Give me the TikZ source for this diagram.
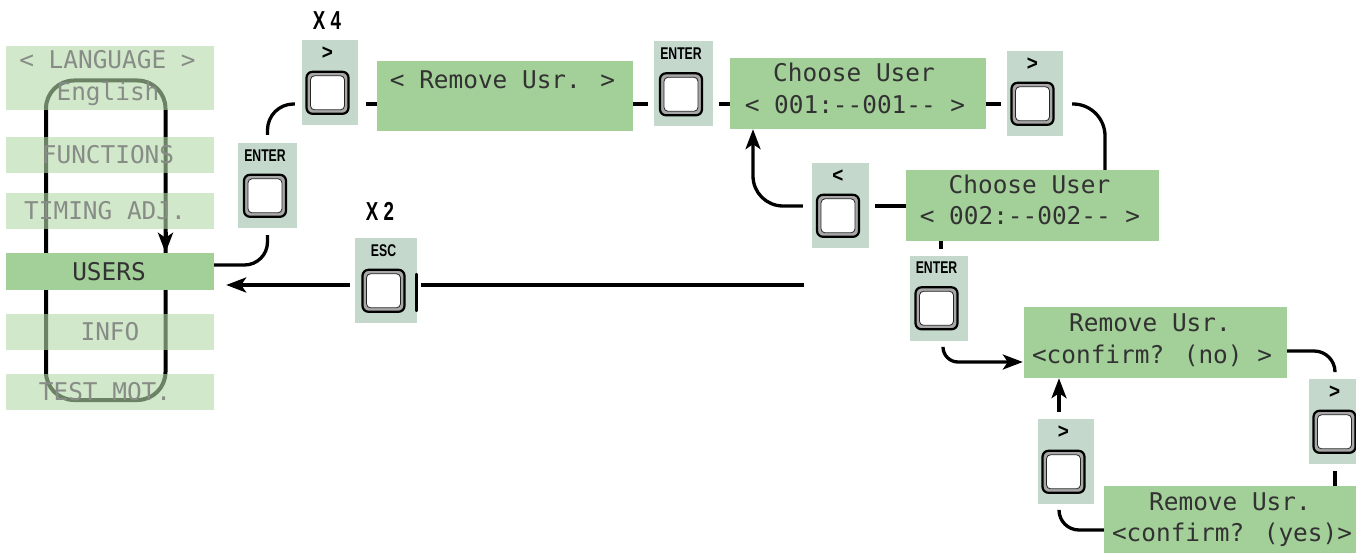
\documentclass[tikz,border=0pt]{standalone}
\usepackage{fontspec}
\usetikzlibrary{arrows.meta,calc}
\newfontfamily\lcd{DejaVu Sans Mono}
\newfontfamily\cond{Liberation Sans}[FakeStretch=0.72]
\newfontfamily\symf{Liberation Sans}[FakeStretch=0.9]
\definecolor{lcdgreen}{RGB}{163,207,152}
\definecolor{fadegreen}{RGB}{180,217,167}
\definecolor{panelc}{RGB}{196,216,203}
\definecolor{ringc}{RGB}{168,168,168}
\definecolor{lcdtext}{RGB}{50,50,50}
\definecolor{fadetext}{RGB}{135,140,135}
\tikzset{
  conn/.style={line width=3.3pt, black},
  arr/.style={-{Stealth[length=20pt,width=15pt,inset=5pt]}},
  lcdbox/.style={rectangle, fill=lcdgreen, inner sep=0, minimum height=71pt},
  fadebox/.style={rectangle, fill=fadegreen, fill opacity=0.6, inner sep=0, minimum width=208pt, minimum height=36pt},
  lcdt/.style={font=\lcd\fontsize{24.4}{28}\selectfont, inner sep=0, text height=17.8pt, text depth=0pt, text=lcdtext},
  fadet/.style={lcdt, text=fadetext},
  panel/.style={rectangle, fill=panelc, inner sep=0, minimum height=85pt},
  keylab/.style={font=\cond\bfseries\fontsize{17}{18}\selectfont, inner sep=0, text height=12pt, text depth=0pt},
  xlab/.style={font=\cond\bfseries\fontsize{26}{28}\selectfont, inner sep=0, text height=18.5pt, text depth=0pt},
  keyouter/.style={rectangle, rounded corners=6pt, draw=black, line width=2.2pt, fill=ringc, minimum size=42pt, inner sep=0},
  keyinner/.style={rectangle, rounded corners=4pt, draw=black!85, line width=0.8pt, fill=white, minimum size=34pt, inner sep=0},
}
\newcommand\sym[1]{{\symf\bfseries\fontsize{21}{22}\selectfont\raisebox{-1pt}{#1}}}
\newcommand\keypanel[5]{%
  \node[panel, minimum width=#4] (#1) at (#2,#3) {};
  \node[keylab] (#1-l) at ($(#1.north)+(-2.5,12.5)$) {#5};
  \node[keyouter] (#1-k) at ($(#1.north)+(-2.5,53)$) {};
  \node[keyinner] (#1-i) at (#1-k.center) {};
}
\begin{document}
\begin{tikzpicture}[x=1pt,y=-1pt]
\fill[white] (0,0) rectangle (1356,553);
\useasboundingbox (0,0) rectangle (1356,553);

% ---- left menu ----
\draw[line width=4pt, rounded corners=28pt] (46,80.5) rectangle (165.5,400);
\node[fadebox, minimum height=64pt] (lang) at (110,78) {};
\node[fadebox] (func) at (110,155) {};
\node[fadebox] (timing) at (110,211) {};
\node[fadebox] (info) at (110,331.5) {};
\node[fadebox] (test) at (110,391.5) {};
\node[rectangle, fill=lcdgreen, inner sep=0, minimum width=208pt, minimum height=37pt] (users) at (110,271.5) {};
\node[fadet] at ($(lang.north)+(-2.5,14)$) {< LANGUAGE >};
\node[fadet] at ($(lang.north)+(-2,45.5)$) {English};
\node[fadet] at ($(func.center)+(-2,0)$) {FUNCTIONS};
\node[fadet] at ($(timing.center)+(-5,0)$) {TIMING ADJ.};
\node[lcdt] at ($(users.center)+(-1,0)$) {USERS};
\node[fadet] at (info.center) {INFO};
\node[fadet] at ($(test.center)+(-5,0)$) {TEST MOT.};
\draw[line width=4pt, arr] (165.5,232) -- (users.north -| 165.5,0);

% ---- display boxes ----
\node[lcdbox, minimum width=256pt, minimum height=70pt] (rem) at (505,96) {};
\node[lcdt] at ($(rem.north)+(-2.5,19)$) {< Remove Usr. >};
\node[lcdbox, minimum width=256pt] (ch1) at (858,93.5) {};
\node[lcdt] at ($(ch1.north)+(-4,15)$) {Choose User};
\node[lcdt] at ($(ch1.north)+(-3,47)$) {< 001:-{}-001-{}- >};
\node[lcdbox, minimum width=253pt] (ch2) at (1032.5,205.5) {};
\node[lcdt] at ($(ch2.north)+(-3,15)$) {Choose User};
\node[lcdt] at ($(ch2.north)+(-2.5,46)$) {< 002:-{}-002-{}- >};
\node[lcdbox, minimum width=263pt] (cno) at (1155.5,342.5) {};
\node[lcdt] at ($(cno.north)+(-5.5,16)$) {Remove Usr.};
\node[lcdt] at ($(cno.north)+(-3.5,48)$) {<confirm? (no) >};
\node[lcdbox, minimum width=256pt] (cyes) at (1232,521.5) {};
\node[lcdt] at ($(cyes.north)+(-2,16)$) {Remove Usr.};
\node[lcdt] at ($(cyes.north)+(0,47)$) {<confirm? (yes)>};

% ---- key panels ----
\keypanel{pb1}{330}{82.5}{56pt}{\sym{>}}
\keypanel{penter1}{267.5}{185.5}{59pt}{ENTER}
\keypanel{penter2}{683.5}{84}{59pt}{ENTER}
\keypanel{pgt1}{1035}{93.5}{56pt}{\sym{>}}
\keypanel{pless}{840.5}{205.5}{57pt}{\sym{<}}
\keypanel{penter3}{939}{298}{58pt}{ENTER}
\keypanel{pgt2}{1337}{421.5}{56pt}{\sym{>}}
\keypanel{pgt3}{1066}{461.5}{56pt}{\sym{>}}
\keypanel{pesc}{386}{280.5}{62pt}{ESC}
\draw[line width=2.2pt, line cap=round] (416.5,274) -- (416.5,311);

\node[xlab] (x4) at ($(pb1.north)+(-3,-20)$) {X 4};
\node[xlab] (x2) at ($(pesc.north)+(-6,-27)$) {X 2};

% ---- connectors ----
\draw[conn, rounded corners=23pt] ($(users.east)+(0,-6.5)$) -| ($(penter1.south)+(0,7)$);
\draw[conn, rounded corners=26pt] ($(penter1.north)+(0,-8)$) |- ($(pb1.west)+(-7,21.5)$);
\draw[conn] ($(pb1.east)+(8,21.5)$) -- ($(rem.west)+(0,8)$);
\draw[conn] ($(rem.east)+(0,8)$) -- ($(penter2.west)+(-6,20)$);
\draw[conn] ($(penter2.east)+(6,20)$) -- ($(ch1.west)+(0,10.5)$);
\draw[conn] ($(ch1.east)+(0,10.5)$) -- ($(pgt1.west)+(-6,10.5)$);
\draw[conn, rounded corners=32pt] ($(pgt1.east)+(9,10.5)$) -| ($(ch2.north)+(72.5,0)$);
\draw[conn] ($(ch2.west)+(0,0.5)$) -- ($(pless.east)+(6,0.5)$);
\draw[conn, arr, rounded corners=30pt] ($(pless.west)+(-9,0.5)$) -| ($(ch1.south)+(-105,0)$);
\draw[conn] ($(ch2.south)+(-91.5,0)$) -- ($(penter3.north)+(2,-6)$);
\draw[conn, arr, rounded corners=15pt] ($(penter3.south)+(4,7)$) |- ($(cno.west)+(-1,19.5)$);
\draw[conn, rounded corners=21pt] ($(cno.east)+(0,8.5)$) -| ($(pgt2.north)+(-2,-7)$);
\draw[conn] ($(pgt2.south)+(-2,7)$) -- ($(cyes.north)+(103,0)$);
\draw[conn, rounded corners=20pt] ($(cyes.west)+(0,8.5)$) -| ($(pgt3.south)+(-7,6)$);
\draw[conn, arr] ($(pgt3.north)+(-7,-7)$) -- ($(cno.south)+(-96.5,0)$);
\coordinate (escsrc) at (804,285);
\draw[conn] (escsrc) -- ($(pesc.east)+(4,4.5)$);
\draw[conn, arr] ($(pesc.west)+(-5,4.5)$) -- ($(users.east)+(12,13.5)$);
\end{tikzpicture}
\end{document}
